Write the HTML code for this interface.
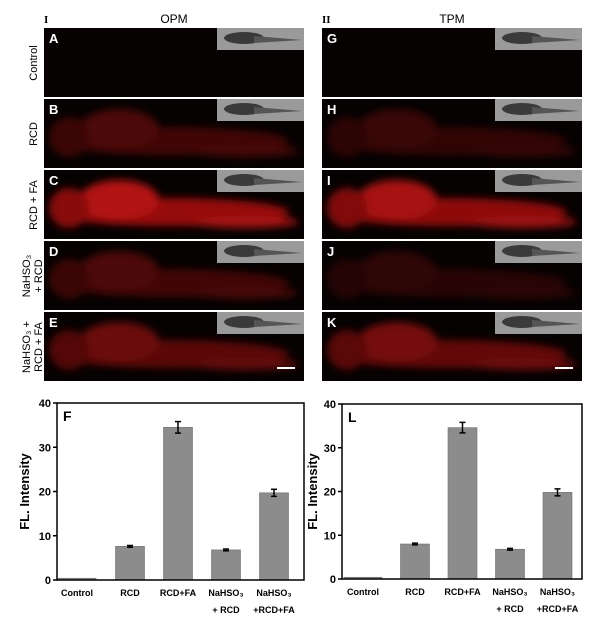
<!DOCTYPE html>
<html><head><meta charset="utf-8"><style>
body{margin:0;background:#fff;width:608px;height:618px;overflow:hidden}
svg{display:block;font-family:"Liberation Sans",sans-serif}
</style></head><body>
<svg id="s" width="608" height="618" viewBox="0 0 608 618">
<defs>
<filter id="bl" x="-20%" y="-50%" width="140%" height="200%"><feGaussianBlur stdDeviation="4"/></filter>
</defs>
<text x="44" y="23" font-family="Liberation Serif" font-weight="bold" font-size="11">I</text>
<text x="174" y="23" font-size="12" text-anchor="middle">OPM</text>
<text x="322" y="23" font-family="Liberation Serif" font-weight="bold" font-size="11">II</text>
<text x="452" y="23" font-size="12" text-anchor="middle">TPM</text>
<g id="imgs"></g>
<g id="rowlabels" font-size="11"></g>
<g id="chartF"></g>
<g id="chartL"></g>
</svg>
<script>
const categories=["Control","RCD","RCD+FA","NaHSO3 + RCD","NaHSO3 +RCD+FA"];
const valuesF=[0.4,7.6,34.5,6.8,19.7];
const errorsF=[0,0.2,1.3,0.2,0.8];
const valuesL=[0.4,8.0,34.6,6.8,19.8];
const errorsL=[0,0.2,1.2,0.2,0.8];
const yTicks=[0,10,20,30,40];
const panelLetters=[["A","B","C","D","E"],["G","H","I","J","K"]];
const intensity=[[0,0.35,0.85,0.35,0.5],[0,0.25,0.8,0.2,0.55]];
const NS="http://www.w3.org/2000/svg";
function mk(t,a,p){const e=document.createElementNS(NS,t);for(const k in a)e.setAttribute(k,a[k]);(p||document.getElementById('s')).appendChild(e);return e;}
const imgs=document.getElementById('imgs');
[44,322].forEach((x0,c)=>{
  for(let r=0;r<5;r++){
    const y0=28+r*71;
    const g=mk('g',{},imgs);
    
    
    mk('rect',{x:x0,y:y0,width:260,height:69,fill:'#060202'},g);
    const k=intensity[c][r];
    if(k>0){
      const fg=mk('g',{filter:'url(#bl)',opacity:k},g);
      mk('ellipse',{cx:x0+125,cy:y0+42,rx:120,ry:14,fill:'#b01010'},fg);
      mk('ellipse',{cx:x0+75,cy:y0+30,rx:40,ry:20,fill:'#d01818'},fg);
      mk('ellipse',{cx:x0+25,cy:y0+38,rx:20,ry:20,fill:'#a01010'},fg);
      mk('ellipse',{cx:x0+200,cy:y0+52,rx:55,ry:6,fill:'#c01414'},fg);
    }
    const ins=mk('rect',{x:x0+173,y:y0,width:87,height:22,fill:'#9a9a9a'},g);
    
    
    mk('ellipse',{cx:x0+200,cy:y0+10,rx:20,ry:6,fill:'#3a3a3a'},g);
    mk('path',{d:`M${x0+210} ${y0+8} L${x0+258} ${y0+12} L${x0+210} ${y0+15}Z`,fill:'#555'},g);
    const t=mk('text',{x:x0+5,y:y0+15,fill:'#fff','font-size':'13','font-weight':'bold'},g);
    t.textContent=panelLetters[c][r];
    
    
  }
  const sb=mk('rect',{x:x0+233,y:380-13,width:18,height:2,fill:'#fff'});
  
  
});
const rl=[["Control"],["RCD"],["RCD + FA"],["NaHSO\u2083","+ RCD"],["NaHSO\u2083 +","RCD + FA"]];
const rg=document.getElementById('rowlabels');
rl.forEach((lines,r)=>{
  const cy=28+r*71+35;
  lines.forEach((s,i)=>{
    const x=lines.length==1?37:30+i*12;
    const t=mk('text',{x:x,y:cy,'text-anchor':'middle',transform:`rotate(-90 ${x} ${cy})`},rg);
    t.textContent=s;
    
    
  });
});
function chart(gid,x0,x1,y0,y1,vals,errs,letter,barX,ytx){
  const g=document.getElementById(gid);
  
  
  const ys=v=>y1-(v/40)*(y1-y0);
  yTicks.forEach(t=>{
    mk('line',{x1:x0-4,x2:x0,y1:ys(t),y2:ys(t),stroke:'#000','stroke-width':1.5},g);
    const tx=mk('text',{x:x0-6,y:ys(t)+4,'text-anchor':'end','font-size':'11','font-weight':'bold'},g);
    tx.textContent=t;
    
    
  });
  vals.forEach((v,i)=>{
    const cx=barX(i);
    const w=i==0?38:29;
    const b=mk('rect',{x:cx-w/2,y:ys(v),width:w,height:y1-ys(v),fill:'#8c8c8c',stroke:'#6e6e6e','stroke-width':0.6},g);
    
    
    if(errs[i]>0){
      const e=errs[i];
      mk('line',{x1:cx,x2:cx,y1:ys(v+e),y2:ys(v-e),stroke:'#000','stroke-width':1.5},g);
      mk('line',{x1:cx-3,x2:cx+3,y1:ys(v+e),y2:ys(v+e),stroke:'#000','stroke-width':1.5},g);
      mk('line',{x1:cx-3,x2:cx+3,y1:ys(v-e),y2:ys(v-e),stroke:'#000','stroke-width':1.5},g);
    }
    const parts=categories[i].replace('NaHSO3','NaHSO\u2083').split(/ (?=\+)/);
    parts.forEach((p,j)=>{
      const tx=mk('text',{x:cx,y:y1+16+j*17,'text-anchor':'middle','font-size':'9','font-weight':'bold'},g);
      tx.textContent=p;
      
      
    });
  });
  mk('rect',{x:x0,y:y0,width:x1-x0,height:y1-y0,fill:'none',stroke:'#000','stroke-width':1.5},g);
  const L=mk('text',{x:x0+6,y:y0+18,'font-size':'14','font-weight':'bold'},g);
  L.textContent=letter;
  
  
  const yc=(y0+y1)/2;
  const yt=mk('text',{x:ytx,y:yc,'text-anchor':'middle','font-size':'13','font-weight':'bold',transform:`rotate(-90 ${ytx} ${yc})`},g);
  yt.textContent='FL. Intensity';
  
  
}
chart('chartF',57,304,403,580,valuesF,errorsF,'F',i=>i==0?77:130+(i-1)*48,29);
chart('chartL',342,582,404,579,valuesL,errorsL,'L',i=>i==0?363:415+(i-1)*47.5,317);
</script>
</body></html>
